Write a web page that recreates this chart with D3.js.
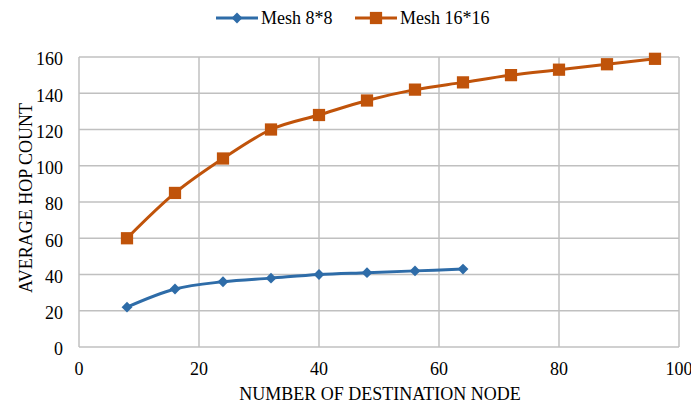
<!DOCTYPE html>
<html>
<head>
<meta charset="utf-8">
<script src="https://cdn.jsdelivr.net/npm/d3@7"></script>
<style>
  body { margin: 0; background: #fff; }
</style>
</head>
<body>
<svg id="chart" width="691" height="403"></svg>
<script>
// data
var destNodes8 = [8, 16, 24, 32, 40, 48, 56, 64];
var hops8 = [22, 32, 36, 38, 40, 41, 42, 43];
var destNodes16 = [8, 16, 24, 32, 40, 48, 56, 64, 72, 80, 88, 96];
var hops16 = [60, 85, 104, 120, 128, 136, 142, 146, 150, 153, 156, 159];
var xTicks = [0, 20, 40, 60, 80, 100];
var yTicks = [0, 20, 40, 60, 80, 100, 120, 140, 160];
var seriesNames = ["Mesh 8*8", "Mesh 16*16"];

var BLUE = "#2E6CA8";
var ORANGE = "#C0530A";
var GRID = "#C0C0C0";
var FONT = "Liberation Serif";
var FSIZE = 18;

var svg = d3.select("#chart");

// scales
var x = d3.scaleLinear().domain([0, 100]).range([79, 679]);
var y = d3.scaleLinear().domain([0, 160]).range([347, 57]);

// grid
svg.append("g").selectAll("line.h")
  .data(yTicks)
  .enter().append("line")
  .attr("x1", x(0)).attr("x2", x(100))
  .attr("y1", function(d){ return y(d); })
  .attr("y2", function(d){ return y(d); })
  .style("stroke", GRID).style("stroke-width", 1.5);

svg.append("g").selectAll("line.v")
  .data(xTicks)
  .enter().append("line")
  .attr("y1", y(0)).attr("y2", y(160))
  .attr("x1", function(d){ return x(d); })
  .attr("x2", function(d){ return x(d); })
  .style("stroke", GRID).style("stroke-width", 1.5);

// tick labels
svg.append("g").selectAll("text")
  .data(yTicks)
  .enter().append("text")
  .attr("x", 63)
  .attr("y", function(d){ return y(d) + 2; })
  .attr("dy", "0.35em")
  .attr("text-anchor", "end")
  .attr("font-family", FONT)
  .attr("font-size", FSIZE)
  .text(function(d){ return d; });

svg.append("g").selectAll("text")
  .data(xTicks)
  .enter().append("text")
  .attr("x", function(d){ return x(d); })
  .attr("y", 375)
  .attr("text-anchor", "middle")
  .attr("font-family", FONT)
  .attr("font-size", FSIZE)
  .text(function(d){ return d; });

// axis titles
svg.append("text")
  .attr("x", 380).attr("y", 400)
  .attr("text-anchor", "middle")
  .attr("font-family", FONT)
  .attr("font-size", FSIZE)
  .text("NUMBER OF DESTINATION NODE");

svg.append("text")
  .attr("transform", "translate(32,198) rotate(-90)")
  .attr("text-anchor", "middle")
  .attr("font-family", FONT)
  .attr("font-size", FSIZE)
  .text("AVERAGE HOP COUNT");

// lines
var line = d3.line()
  .x(function(d){ return x(d[0]); })
  .y(function(d){ return y(d[1]); })
  .curve(d3.curveCatmullRom.alpha(0));

var s8 = d3.zip(destNodes8, hops8);
var s16 = d3.zip(destNodes16, hops16);

svg.append("path").datum(s16)
  .attr("d", line)
  .style("fill", "none").style("stroke", ORANGE).style("stroke-width", 3);

svg.append("path").datum(s8)
  .attr("d", line)
  .style("fill", "none").style("stroke", BLUE).style("stroke-width", 3);

var diamond = d3.symbol().type(d3.symbolDiamond2).size(75);
var square = d3.symbol().type(d3.symbolSquare).size(150);

svg.append("g").selectAll("path")
  .data(s16)
  .enter().append("path")
  .attr("d", square)
  .attr("transform", function(d){ return "translate(" + x(d[0]) + "," + y(d[1]) + ")"; })
  .style("fill", ORANGE);

svg.append("g").selectAll("path")
  .data(s8)
  .enter().append("path")
  .attr("d", diamond)
  .attr("transform", function(d){ return "translate(" + x(d[0]) + "," + y(d[1]) + ")"; })
  .style("fill", BLUE);

// legend
var legend = svg.append("g").attr("transform", "translate(0,18)");
var legendX = [216, 355];
var legendColors = [BLUE, ORANGE];
var legendSyms = [diamond, square];
seriesNames.forEach(function(name, i){
  var g = legend.append("g").attr("transform", "translate(" + legendX[i] + ",0)");
  g.append("line").attr("x1", 0).attr("x2", 42).attr("y1", 0).attr("y2", 0)
    .style("stroke", legendColors[i]).style("stroke-width", 3);
  g.append("path").attr("d", legendSyms[i]).attr("transform", "translate(21,0)")
    .style("fill", legendColors[i]);
  g.append("text").attr("x", 45).attr("y", 0).attr("dy", "0.35em")
    .attr("font-family", FONT).attr("font-size", FSIZE).text(name);
});
</script>
</body>
</html>
